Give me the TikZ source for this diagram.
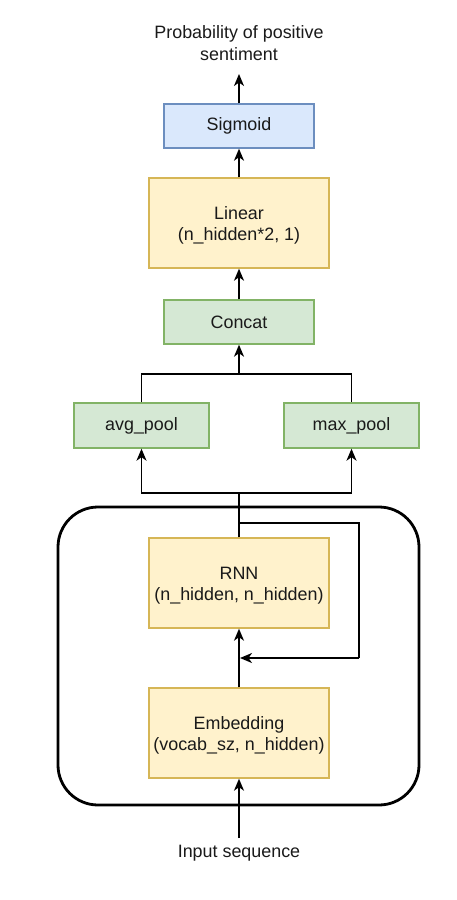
\documentclass[tikz,border=0pt]{standalone}
\usepackage{fontspec}
\setmainfont{Liberation Sans}
\usetikzlibrary{arrows.meta}
\definecolor{bluefill}{HTML}{DAE8FC}
\definecolor{bluedraw}{HTML}{6C8EBF}
\definecolor{yelfill}{HTML}{FFF2CC}
\definecolor{yeldraw}{HTML}{D6B656}
\definecolor{grnfill}{HTML}{D5E8D4}
\definecolor{grndraw}{HTML}{82B366}
\definecolor{txt}{HTML}{1A1A1A}
\tikzset{
  basebox/.style={rectangle, inner sep=0pt, line width=1.4pt, align=center,
    font=\fontsize{17.9}{21.5}\selectfont, text=txt},
  bluebox/.style={basebox, fill=bluefill, draw=bluedraw},
  yelbox/.style={basebox, fill=yelfill, draw=yeldraw},
  grnbox/.style={basebox, fill=grnfill, draw=grndraw},
  label text/.style={inner sep=0pt, align=center, font=\fontsize{17.9}{21.5}\selectfont, text=txt},
  twoline/.style={label={[label text, yshift=-2.5pt]center:#1}},
  conn/.style={line width=1.6pt, draw=black},
  arr/.style={conn, -{Stealth[length=12pt,width=10pt,inset=3.5pt]}},
}
\begin{document}
\begin{tikzpicture}[x=1pt,y=-1pt]
\useasboundingbox (0,0) rectangle (457,900);
\fill[white] (0,0) rectangle (457,900);
% outer rounded container
\draw[line width=2.8pt, rounded corners=40pt] (58,507) rectangle (419,805);
% nodes
\node[label text] (prob) at (239,43) {Probability of positive\\sentiment};
\node[bluebox, minimum width=150pt, minimum height=44pt] (sig) at (239,126) {Sigmoid};
\node[yelbox, minimum width=180pt, minimum height=90pt, twoline={Linear\\(n\_hidden*2, 1)}] (lin) at (239,223) {};
\node[grnbox, minimum width=150pt, minimum height=44pt] (concat) at (239,322) {Concat};
\node[grnbox, minimum width=135pt, minimum height=45pt] (avg) at (141.5,425.5) {avg\_pool};
\node[grnbox, minimum width=135pt, minimum height=45pt] (max) at (351.5,425.5) {max\_pool};
\node[yelbox, minimum width=180pt, minimum height=90pt, twoline={RNN\\(n\_hidden, n\_hidden)}] (rnn) at (239,583) {};
\node[yelbox, minimum width=180pt, minimum height=90pt, twoline={Embedding\\(vocab\_sz, n\_hidden)}] (emb) at (239,733) {};
\node[label text] (inp) at (239,853) {Input sequence};
% coordinates
\coordinate (split) at (239,493);
\coordinate (merge) at (239,374);
\coordinate (loopA) at (239,523);
\coordinate (loopB) at (359,523);
\coordinate (loopC) at (359,658);
\coordinate (loopD) at (240,658);
\coordinate (inpTop) at (239,838);
\coordinate (probBot) at (239,74);
% connectors
\draw[arr] (inpTop) -- (emb.south);
\draw[arr] (emb.north) -- (rnn.south);
\draw[conn] (loopA) -- (loopB) -- (loopC);
\draw[arr] (loopC) -- (loopD);
\draw[conn] (rnn.north) -- (split);
\draw[arr] (split) -| (avg.south);
\draw[arr] (split) -| (max.south);
\draw[conn] (avg.north) |- (merge) -| (max.north);
\draw[arr] (merge) -- (concat.south);
\draw[arr] (concat.north) -- (lin.south);
\draw[arr] (lin.north) -- (sig.south);
\draw[arr] (sig.north) -- (probBot);
\end{tikzpicture}
\end{document}
